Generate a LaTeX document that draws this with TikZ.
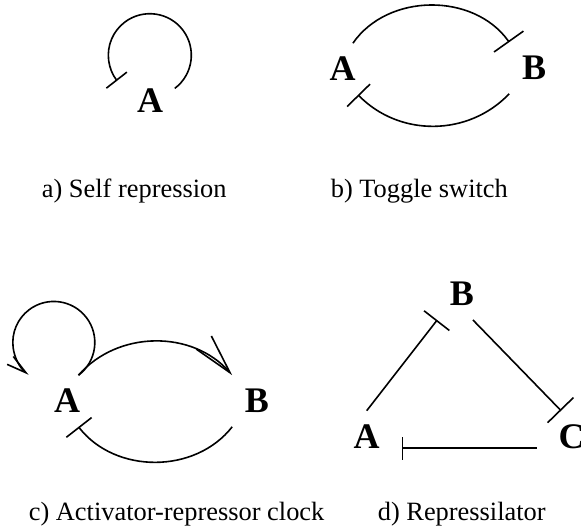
\documentclass[tikz,border=0pt]{standalone}
\usepackage{fontspec}
\setmainfont{Liberation Serif}
\usetikzlibrary{arrows.meta}

\begin{document}
\begin{tikzpicture}[x=1pt, y=1pt, line width=1.6pt,
  gene/.style={font=\fontsize{36}{40}\selectfont\bfseries,
    minimum width=48pt, minimum height=50pt, inner sep=0pt},
  capt/.style={font=\fontsize{26.4}{30}\selectfont, anchor=base west, inner sep=0pt},
  repress/.style={-{Bar[width=#1]}}, repress/.default=32pt,
  activate/.style={-{Straight Barb[length=40pt, width=20pt]}},
  selfact/.style={-{Straight Barb[length=20pt, width=10pt]}}]
  \useasboundingbox (0, 0) rectangle (581, 531);

  % a) 自我抑制
  \node[gene] (selfA) at (150, 430) {A};
  \draw[repress=26pt] (selfA.27) arc[start angle=-53, end angle=218, radius=41.5];
  \node[capt] (capA) at (41, 333) {a) Self repression};

  % b) 双稳态开关
  \node[gene] (togA) at (342.5, 462) {A};
  \node[gene] (togB) at (534, 463) {B};
  \draw[repress=36pt] (togA.68) to[bend left=55] (togB.north west);
  \draw[repress] (togB.south west) to[bend left=46] (togA.-59);
  \node[capt] (capB) at (330, 333) {b) Toggle switch};

  % c) 激活-抑制时钟
  \node[gene] (clkA) at (67, 130) {A};
  \node[gene] (clkB) at (257, 130) {B};
  \draw[selfact] (clkA.66) arc[start angle=-53, end angle=232, radius=41];
  \draw[activate] (clkA.66) to[bend left=49] (clkB.north west);
  \draw[repress] (clkB.south west) to[bend left=52] (clkA.-66);
  \node[capt] (capC) at (28, 11) {c) Activator-repressor clock};

  % d) 三基因振荡器
  \node[gene] (repA) at (366.7, 94.5) {A};
  \node[gene] (repB) at (462, 236.8) {B};
  \node[gene] (repC) at (571.5, 94.5) {C};
  \draw[repress] (repA.north) -- (repB.south west);
  \draw[repress=36pt] (repB.-67) -- (repC.112);
  \draw[repress=23pt, shorten <=10pt, shorten >=10pt]
    (repC.base west) -- (repC.base west -| repA.base east);
  \node[capt] (capD) at (377, 11) {d) Repressilator};
\end{tikzpicture}
\end{document}
